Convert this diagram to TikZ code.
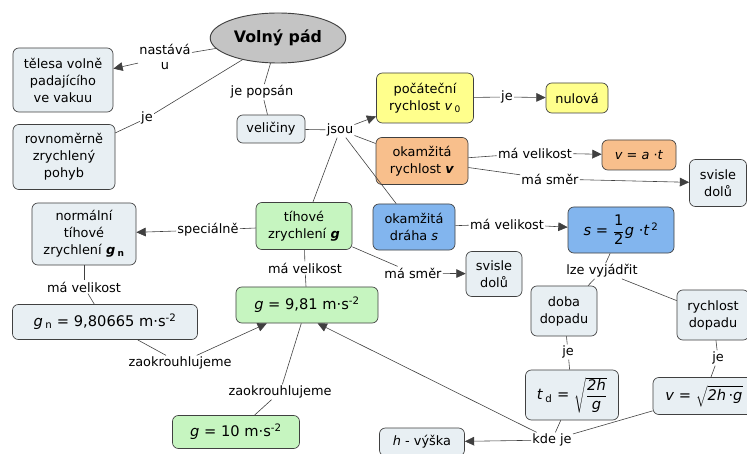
\documentclass[tikz,border=0pt]{standalone}
\usepackage{fontspec}
\setmainfont{DejaVu Sans}
\usetikzlibrary{arrows.meta,shapes.geometric}

\definecolor{boxgray}{HTML}{E8EFF3}
\definecolor{boxyellow}{HTML}{FFFF8C}
\definecolor{boxorange}{HTML}{F8BF8C}
\definecolor{boxblue}{HTML}{82B5EE}
\definecolor{boxgreen}{HTML}{C6F5C0}
\definecolor{rootgray}{HTML}{C4C4C4}
\definecolor{linegray}{HTML}{404040}

\begin{document}
\begin{tikzpicture}[
    x=0.03cm, y=-0.03cm,
    concept/.style={rectangle, draw=linegray, rounded corners=5pt, align=center, font=\fontsize{11}{14.5}\selectfont, inner sep=2pt, line width=0.6pt, fill=boxgray},
    formula/.style={concept, font=\fontsize{12.5}{15}\selectfont},
    link/.style={font=\fontsize{11}{12.5}\selectfont, inner sep=1pt, align=center},
    line/.style={draw=linegray, line width=0.5pt},
    arrow/.style={line, -{Triangle[length=2.8mm, width=2.6mm]}},
  ]
  \fill[white] (0,0) rectangle (747,454);
  \useasboundingbox (0,0) rectangle (747,454);

  % Main concept
  \node[ellipse, draw=linegray, line width=0.8pt, fill=rootgray, minimum width=3.36cm, minimum height=1.5cm, font=\fontsize{13.5}{15}\selectfont\bfseries] (root) at (278,38) {Volný pád};

  % Left top
  \node[concept, minimum width=3cm, minimum height=1.92cm] (vakuum) at (63,80) {tělesa volně\\padajícího\\ve vakuu};
  \node[concept, minimum width=3.06cm, minimum height=1.95cm] (pohyb) at (64,157) {rovnoměrně\\zrychlený\\pohyb};
  \node[concept, minimum width=2.04cm, minimum height=0.84cm] (veliciny) at (271,129) {veličiny};

  % Quantities
  \node[concept, fill=boxyellow, minimum width=2.91cm, minimum height=1.5cm] (pocatecni) at (425,98) {počáteční\\rychlost \textit{v}\,\textsubscript{0}};
  \node[concept, fill=boxyellow, minimum width=1.86cm, minimum height=0.9cm] (nulova) at (577,98) {nulová};
  \node[concept, fill=boxorange, minimum width=2.76cm, minimum height=1.41cm] (okrychlost) at (422,161) {okamžitá\\rychlost \textbf{\textit{v}}};
  \node[concept, fill=boxorange, minimum width=2.22cm, minimum height=0.9cm] (vat) at (639,155) {\textit{v} = \textit{a} ·\textit{t}};
  \node[concept, minimum width=1.71cm, minimum height=1.41cm] (dolua) at (718,183) {svisle\\dolů};
  \node[concept, fill=boxblue, minimum width=2.46cm, minimum height=1.38cm] (drahas) at (414,227) {okamžitá\\dráha \textit{s}};
  \node[formula, fill=boxblue, minimum width=3.18cm, minimum height=1.38cm] (sfor) at (621,230) {\textit{s} = $\displaystyle\frac{\textrm{1}}{\textrm{2}}$\textit{g} ·\textit{t}\textsuperscript{\,2}};
  \node[concept, minimum width=1.98cm, minimum height=1.5cm] (doba) at (564,311) {doba\\dopadu};
  \node[concept, minimum width=2.16cm, minimum height=1.5cm] (rdopad) at (713,315) {rychlost\\dopadu};
  \node[formula, minimum width=2.79cm, minimum height=1.5cm] (tdfor) at (572,395) {\textit{t}\,\textsubscript{d} = $\sqrt{\displaystyle\frac{\textit{2h}}{\textit{g}}}$};
  \node[formula, minimum width=3.06cm, minimum height=1.11cm] (vfor) at (704,396) {\textit{v} = $\sqrt{\textit{2h}\,\textrm{·}\textit{g}}$};
  \node[concept, minimum width=2.55cm, minimum height=0.84cm] (vyska) at (422,442) {\textit{h} - výška};

  % Gravity
  \node[concept, fill=boxgreen, minimum width=2.88cm, minimum height=1.41cm] (tihove) at (304,226) {tíhové\\zrychlení \textbf{\textit{g}}};
  \node[concept, minimum width=3.12cm, minimum height=1.86cm] (normalni) at (84,234) {normální\\tíhové\\zrychlení \textbf{\textit{g}}\,\textsubscript{\textbf{n}}};
  \node[formula, minimum width=5.55cm, minimum height=1.05cm] (gnfor) at (105,322) {\textit{g}\,\textsubscript{n} = 9,80665 m·s\textsuperscript{-2}};
  \node[formula, fill=boxgreen, minimum width=4.26cm, minimum height=1.08cm] (gdevet) at (307,305) {\textit{g} = 9,81 m·s\textsuperscript{-2}};
  \node[formula, fill=boxgreen, minimum width=3.81cm, minimum height=0.99cm] (gdeset) at (236,432) {\textit{g} = 10 m·s\textsuperscript{-2}};
  \node[concept, minimum width=1.68cm, minimum height=1.35cm] (dolub) at (494,274) {svisle\\dolů};

  % Link labels
  \node[link] (lnastava) at (165,57) {nastává\\u};
  \node[link] (ljea) at (147,118) {je};
  \node[link] (lpopsan) at (262,92) {je popsán};
  \node[link] (ljsou) at (340,130) {jsou};
  \node[link] (ljeb) at (507,97) {je};
  \node[link] (lvela) at (535,153) {má velikost};
  \node[link] (lsmera) at (550,179) {má směr};
  \node[link] (lvelb) at (507,224) {má velikost};
  \node[link] (llze) at (602,271) {lze vyjádřit};
  \node[link] (ljec) at (568,352) {je};
  \node[link] (ljed) at (718,358) {je};
  \node[link] (lkde) at (552,440) {kde je};
  \node[link] (lspec) at (208,230) {speciálně};
  \node[link] (lvelc) at (84,287) {má velikost};
  \node[link] (lveld) at (305,268) {má velikost};
  \node[link] (lsmerb) at (413,273) {má směr};
  \node[link] (lzaoka) at (180,363) {zaokrouhlujeme};
  \node[link] (lzaokb) at (280,392) {zaokrouhlujeme};

  % Connectors
  \draw[line] (root) -- (lnastava);
  \draw[arrow] (lnastava) -- (vakuum);
  \draw[line] (root) -- (ljea);
  \draw[line] (ljea) -- (pohyb);
  \draw[line] (root) -- (lpopsan);
  \draw[line] (lpopsan) -- (veliciny);
  \draw[line] (veliciny) -- (ljsou);
  \draw[arrow] (ljsou) -- (pocatecni);
  \draw[line] (ljsou) -- (okrychlost);
  \draw[line] (ljsou) -- (tihove);
  \draw[line] (ljsou) -- (drahas);
  \draw[line] (pocatecni) -- (ljeb);
  \draw[arrow] (ljeb) -- (nulova);
  \draw[line] (okrychlost) -- (lvela);
  \draw[arrow] (lvela) -- (vat);
  \draw[line] (okrychlost) -- (lsmera);
  \draw[arrow] (lsmera) -- (dolua);
  \draw[line] (drahas) -- (lvelb);
  \draw[arrow] (lvelb) -- (sfor);
  \draw[line] (sfor) -- (llze);
  \draw[line] (llze) -- (doba);
  \draw[line] (llze) -- (rdopad);
  \draw[line] (doba) -- (ljec);
  \draw[line] (ljec) -- (tdfor);
  \draw[line] (rdopad) -- (ljed);
  \draw[line] (ljed) -- (vfor);
  \draw[line] (tdfor) -- (lkde);
  \draw[line] (vfor) -- (lkde);
  \draw[arrow] (lkde) -- (vyska);
  \draw[arrow] (lkde) -- (gdevet.-60);
  \draw[line] (tihove) -- (lspec);
  \draw[arrow] (lspec) -- (normalni);
  \draw[line] (normalni) -- (lvelc);
  \draw[line] (lvelc) -- (gnfor);
  \draw[line] (tihove) -- (lveld);
  \draw[line] (lveld) -- (gdevet);
  \draw[line] (tihove) -- (lsmerb);
  \draw[arrow] (lsmerb) -- (dolub);
  \draw[line] (gnfor) -- (lzaoka);
  \draw[arrow] (lzaoka) -- (gdevet);
  \draw[line] (gdevet) -- (lzaokb);
  \draw[line] (lzaokb) -- (gdeset);
\end{tikzpicture}
\end{document}
